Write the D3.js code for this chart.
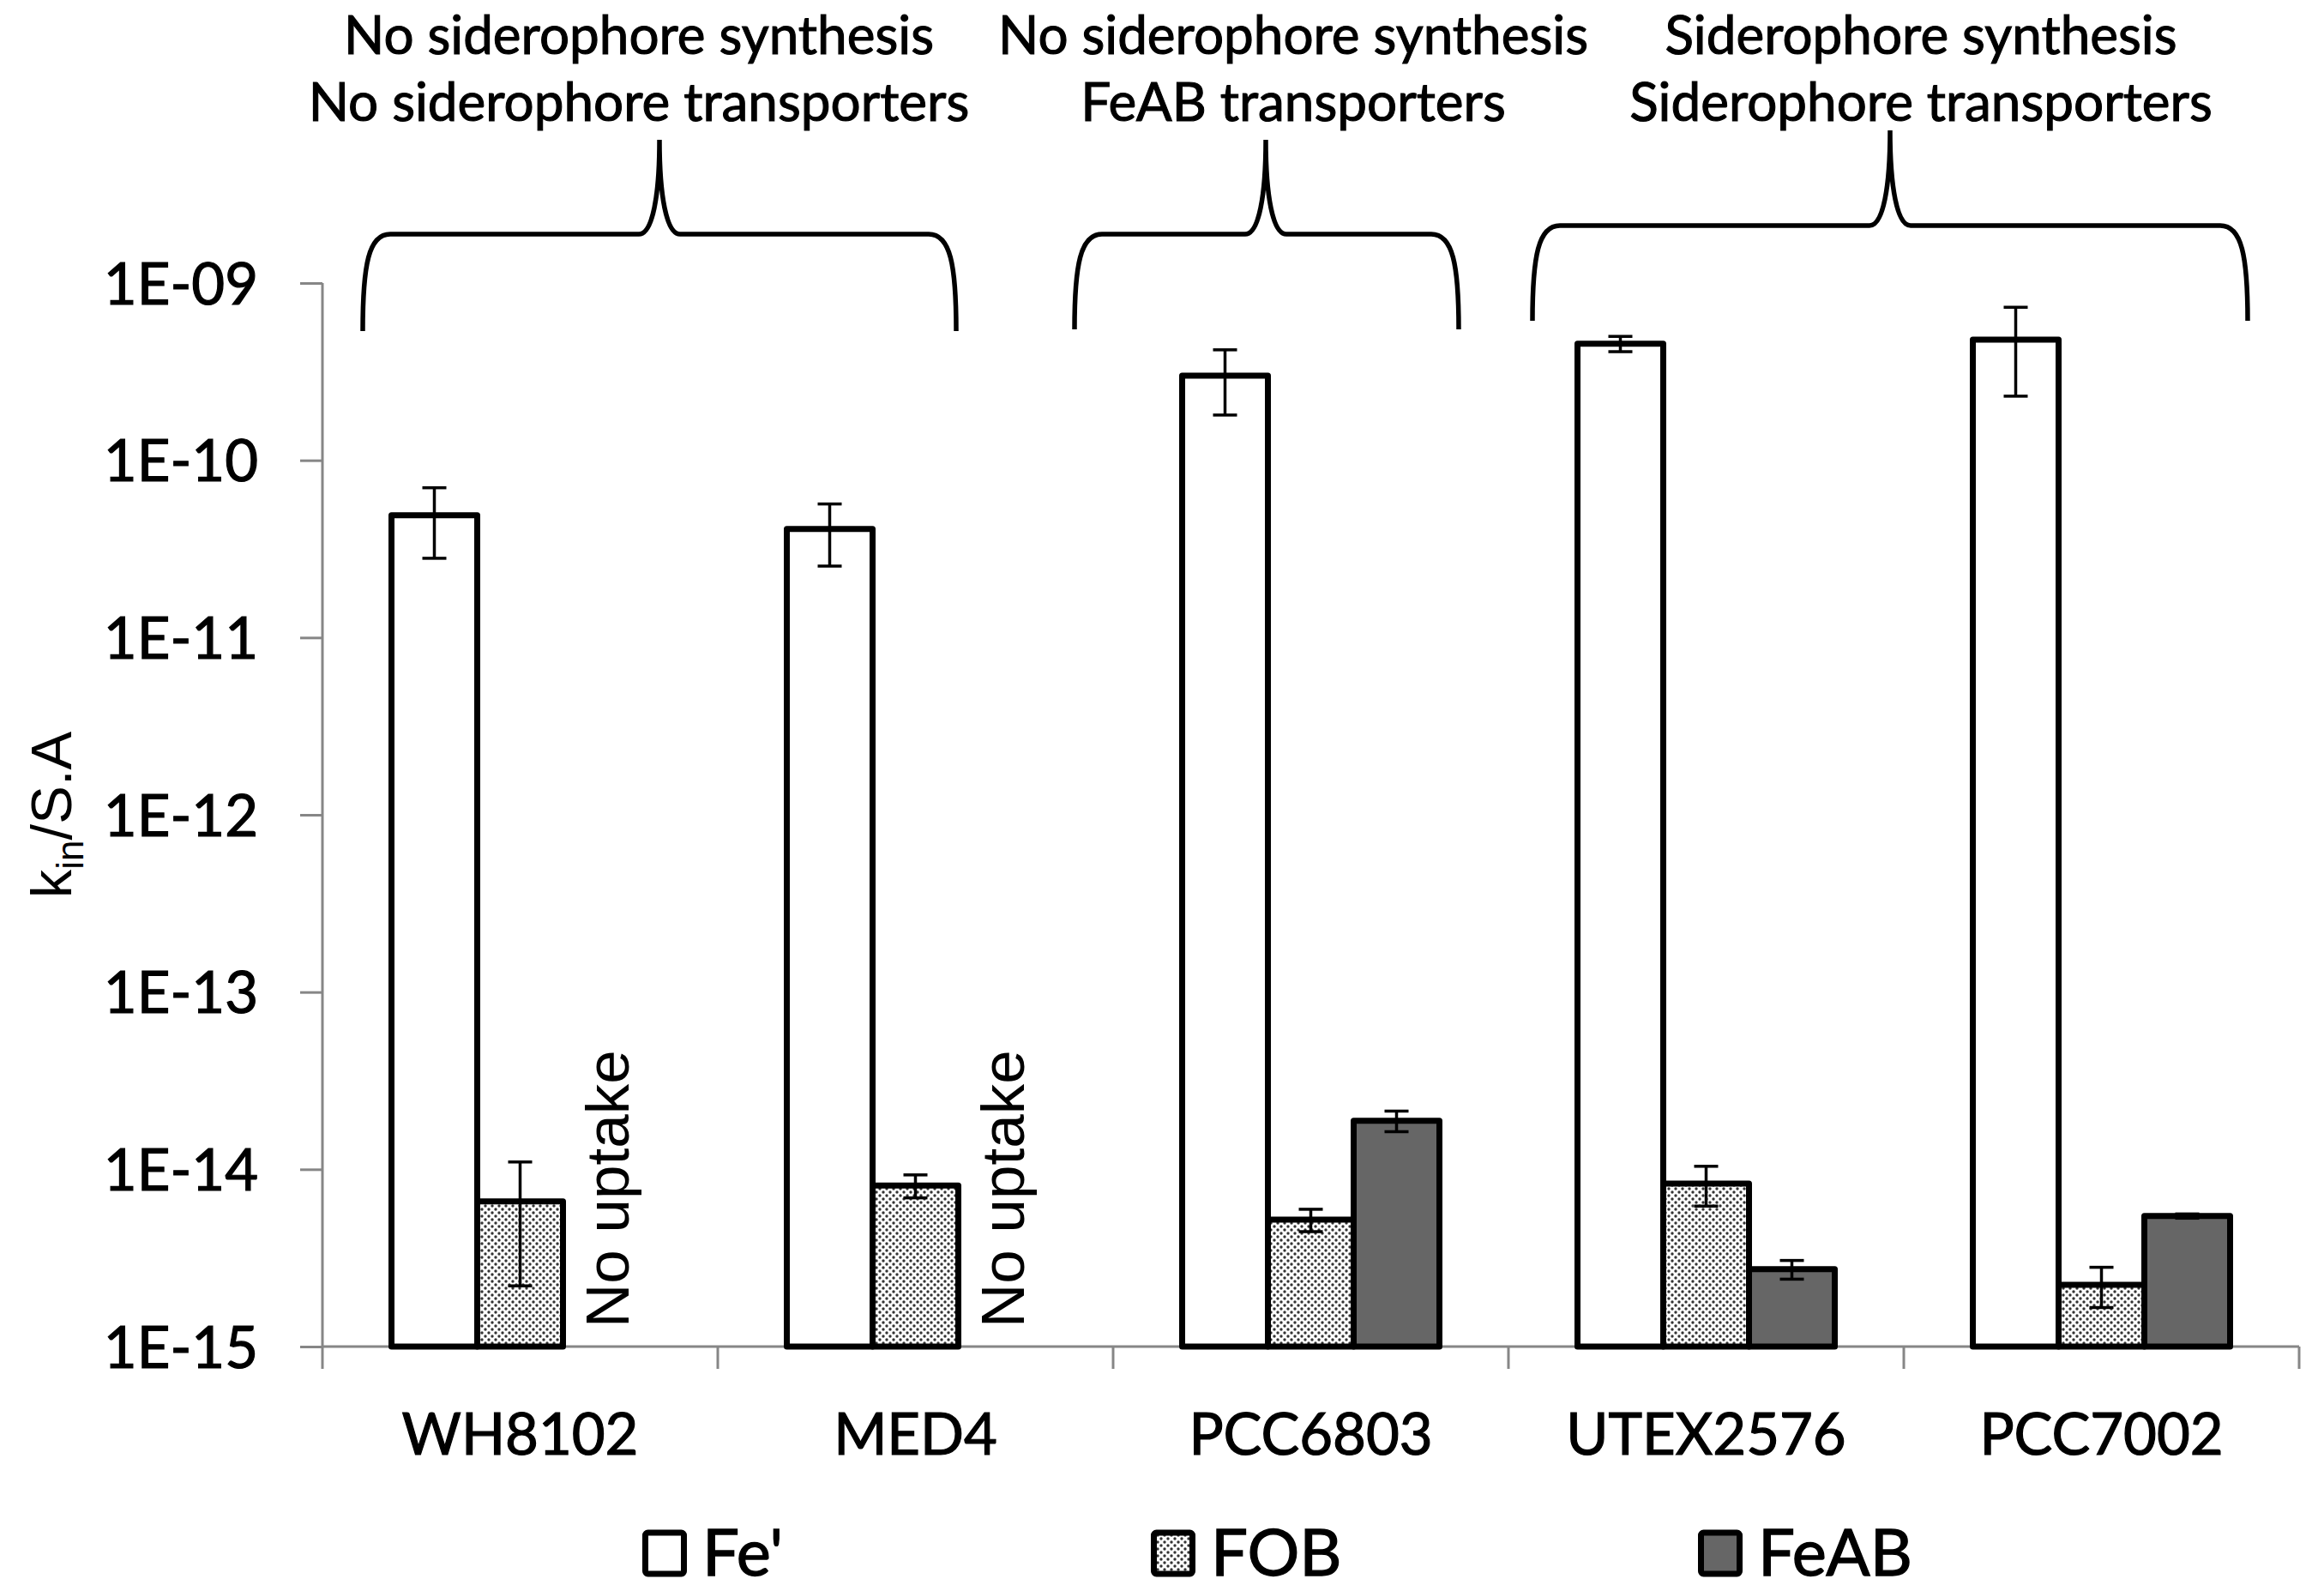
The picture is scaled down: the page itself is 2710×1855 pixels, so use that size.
<!DOCTYPE html>
<html>
<head>
<meta charset="utf-8">
<script src="https://cdn.jsdelivr.net/npm/d3@7"></script>
<style>
  html, body { margin: 0; padding: 0; background: #ffffff; }
  svg { display: block; }
</style>
</head>
<body>
<script>
// ---------------- DATA ----------------
const categories = ["WH8102", "MED4", "PCC6803", "UTEX2576", "PCC7002"];
const seriesNames = ["Fe'", "FOB", "FeAB"];
const feValues   = [4.9e-11, 4.1e-11, 3.0e-10, 4.55e-10, 4.8e-10];
const feErrors   = [2.1e-11, 1.57e-11, 1.2e-10, 0.45e-10, 2.5e-10];
const fobValues  = [6.6e-15, 8.1e-15, 5.2e-15, 8.3e-15, 2.23e-15];
const fobErrors  = [4.4e-15, 1.2e-15, 0.75e-15, 2.1e-15, 0.57e-15];
const feabValues = [null, null, 1.88e-14, 2.73e-15, 5.45e-15];
const feabErrors = [null, null, 2.5e-15, 0.33e-15, 0.15e-15];
const yTickValues = [1e-15, 1e-14, 1e-13, 1e-12, 1e-11, 1e-10, 1e-9];
const yTickLabels = ["1E-15", "1E-14", "1E-13", "1E-12", "1E-11", "1E-10", "1E-09"];
const groupLines = [
  ["No siderophore synthesis", "No siderophore transporters"],
  ["No siderophore synthesis", "FeAB transporters"],
  ["Siderophore synthesis", "Siderophore transporters"]
];
const noUptakeLabel = "No uptake";

// ---------------- LAYOUT ----------------
const W = 2710, H = 1855;
const plot = { left: 376, right: 2681, top: 330, bottom: 1570 };
const calibriLike = "Lato, 'Open Sans', sans-serif";
const arialLike = "'Liberation Sans', Arial, sans-serif";
const axisColor = "#868686";
const seriesFill = ["#ffffff", "url(#fobPattern)", "#666666"];

const svg = d3.select("body").append("svg")
  .attr("width", W).attr("height", H)
  .attr("viewBox", `0 0 ${W} ${H}`);

const defs = svg.append("defs");
const pat = defs.append("pattern")
  .attr("id", "fobPattern")
  .attr("patternUnits", "userSpaceOnUse")
  .attr("width", 8).attr("height", 8);
pat.append("rect").attr("width", 8).attr("height", 8).attr("fill", "#ffffff");
pat.append("circle").attr("cx", 2).attr("cy", 2).attr("r", 1.7).attr("fill", "#333333");
pat.append("circle").attr("cx", 6).attr("cy", 6).attr("r", 1.7).attr("fill", "#333333");

// heavier text to mimic the original rendering
function heavy(sel, w) {
  return sel.attr("stroke", "#000").attr("stroke-width", w).attr("paint-order", "stroke");
}

// Scales
const x = d3.scaleBand().domain(categories).range([plot.left, plot.right]).paddingInner(0).paddingOuter(0);
const xInner = d3.scaleBand().domain(seriesNames).range([0, x.bandwidth()]).paddingInner(0).paddingOuter(0.805);
const y = d3.scaleLog().domain([1e-15, 1e-9]).range([plot.bottom, plot.top]);

// Y axis
const yAxis = d3.axisLeft(y)
  .tickValues(yTickValues)
  .tickFormat((d, i) => yTickLabels[i])
  .tickSize(26)
  .tickPadding(49);
const gy = svg.append("g").attr("transform", `translate(${plot.left},0)`).call(yAxis);
gy.select(".domain").attr("stroke", axisColor).attr("stroke-width", 3)
  .attr("d", `M0,${plot.top}V${plot.bottom}`);
gy.selectAll(".tick line").attr("stroke", axisColor).attr("stroke-width", 3);
heavy(gy.selectAll(".tick text")
  .attr("font-family", calibriLike).attr("font-size", 67).attr("fill", "#000")
  .attr("dy", "0.36em"), 1.2);

// X axis (category boundaries as ticks)
const boundaries = categories.map(c => x(c)).concat([x(categories[categories.length - 1]) + x.bandwidth()]);
const gx = svg.append("g");
gx.append("line")
  .attr("x1", plot.left).attr("x2", boundaries[boundaries.length - 1])
  .attr("y1", y(1e-15)).attr("y2", y(1e-15))
  .attr("stroke", axisColor).attr("stroke-width", 3);
gx.selectAll("line.bt").data(boundaries).join("line")
  .attr("class", "bt")
  .attr("x1", d => d).attr("x2", d => d)
  .attr("y1", y(1e-15)).attr("y2", y(1e-15) + 26)
  .attr("stroke", axisColor).attr("stroke-width", 3);
heavy(gx.selectAll("text.cat").data(categories).join("text")
  .attr("class", "cat")
  .attr("x", d => x(d) + x.bandwidth() / 2)
  .attr("y", 1696)
  .attr("text-anchor", "middle")
  .attr("font-family", calibriLike).attr("font-size", 67)
  .attr("fill", "#000")
  .text(d => d), 1.2);

// Bars
const seriesVals = [feValues, fobValues, feabValues];
const seriesErrs = [feErrors, fobErrors, feabErrors];
const barData = [];
seriesNames.forEach((s, si) => {
  categories.forEach((c, ci) => {
    const v = seriesVals[si][ci];
    if (v != null) barData.push({ s, si, c, v, e: seriesErrs[si][ci] });
  });
});

svg.append("g").selectAll("rect").data(barData).join("rect")
  .attr("x", d => x(d.c) + xInner(d.s))
  .attr("y", d => y(d.v))
  .attr("width", xInner.bandwidth())
  .attr("height", d => y(1e-15) - y(d.v))
  .attr("fill", d => seriesFill[d.si])
  .attr("stroke", "#000")
  .attr("stroke-width", 7)
  .attr("stroke-linejoin", "round");

// Error bars
const eb = svg.append("g").attr("stroke", "#000").attr("stroke-width", 3.5);
barData.forEach(d => {
  const cx = x(d.c) + xInner(d.s) + xInner.bandwidth() / 2;
  const yHi = y(d.v + d.e);
  const yLo = y(Math.max(d.v - d.e, 1e-16));
  eb.append("line").attr("x1", cx).attr("x2", cx).attr("y1", yHi).attr("y2", yLo);
  eb.append("line").attr("x1", cx - 14).attr("x2", cx + 14).attr("y1", yHi).attr("y2", yHi);
  eb.append("line").attr("x1", cx - 14).attr("x2", cx + 14).attr("y1", yLo).attr("y2", yLo);
});

// "No uptake" labels where FeAB is missing
categories.forEach((c, ci) => {
  if (feabValues[ci] == null) {
    const cx = x(c) + xInner("FeAB") + xInner.bandwidth() / 2;
    svg.append("text")
      .attr("transform", `translate(${cx + 26},${plot.bottom - 22}) rotate(-90)`)
      .attr("font-family", arialLike).attr("font-size", 71)
      .attr("fill", "#000")
      .attr("text-anchor", "start")
      .text(noUptakeLabel);
  }
});

// Y axis title
const yt = svg.append("text")
  .attr("transform", `translate(83,${(plot.top + plot.bottom) / 2}) rotate(-90)`)
  .attr("font-family", arialLike).attr("font-size", 67)
  .attr("fill", "#000").attr("text-anchor", "middle");
yt.append("tspan").text("k");
yt.append("tspan").attr("font-size", 44).attr("dy", 14).text("in");
yt.append("tspan").attr("dy", -14).text("/S.A");

// Braces and group labels
const braces = [
  { x1: 423, x2: 1115, peak: 769, ytop: 163, yh: 273, yb: 386, cx: 745 },
  { x1: 1253, x2: 1701, peak: 1476, ytop: 163, yh: 273, yb: 384, cx: 1508 },
  { x1: 1787, x2: 2621, peak: 2204, ytop: 152, yh: 263, yb: 374, cx: 2240 }
];
function bracePath(b) {
  const p = d3.path();
  p.moveTo(b.x1, b.yb);
  p.bezierCurveTo(b.x1, b.yh + 35, b.x1 + 7, b.yh, b.x1 + 32, b.yh);
  p.lineTo(b.peak - 24, b.yh);
  p.bezierCurveTo(b.peak - 8, b.yh, b.peak, b.yh - 45, b.peak, b.ytop);
  p.bezierCurveTo(b.peak, b.yh - 45, b.peak + 8, b.yh, b.peak + 24, b.yh);
  p.lineTo(b.x2 - 32, b.yh);
  p.bezierCurveTo(b.x2 - 7, b.yh, b.x2, b.yh + 35, b.x2, b.yb);
  return p.toString();
}
svg.append("g").selectAll("path").data(braces).join("path")
  .attr("d", d => bracePath(d))
  .attr("fill", "none").attr("stroke", "#000").attr("stroke-width", 5.5);

braces.forEach((b, i) => {
  groupLines[i].forEach((line, li) => {
    heavy(svg.append("text")
      .attr("x", b.cx).attr("y", li === 0 ? 63 : 141)
      .attr("text-anchor", "middle")
      .attr("font-family", calibriLike).attr("font-size", 62)
      .attr("fill", "#000")
      .text(line), 1.1);
  });
});

// Legend
const legendX = [749, 1342, 1980];
const lg = svg.append("g");
seriesNames.forEach((s, i) => {
  lg.append("rect")
    .attr("x", legendX[i] + 3.5).attr("y", 1787)
    .attr("width", 45).attr("height", 48)
    .attr("rx", 3)
    .attr("fill", seriesFill[i]).attr("stroke", "#000").attr("stroke-width", 7);
  heavy(lg.append("text")
    .attr("x", legendX[i] + 70).attr("y", 1837)
    .attr("font-family", calibriLike).attr("font-size", 76)
    .attr("fill", "#000")
    .text(s), 1.3);
});
</script>
</body>
</html>
